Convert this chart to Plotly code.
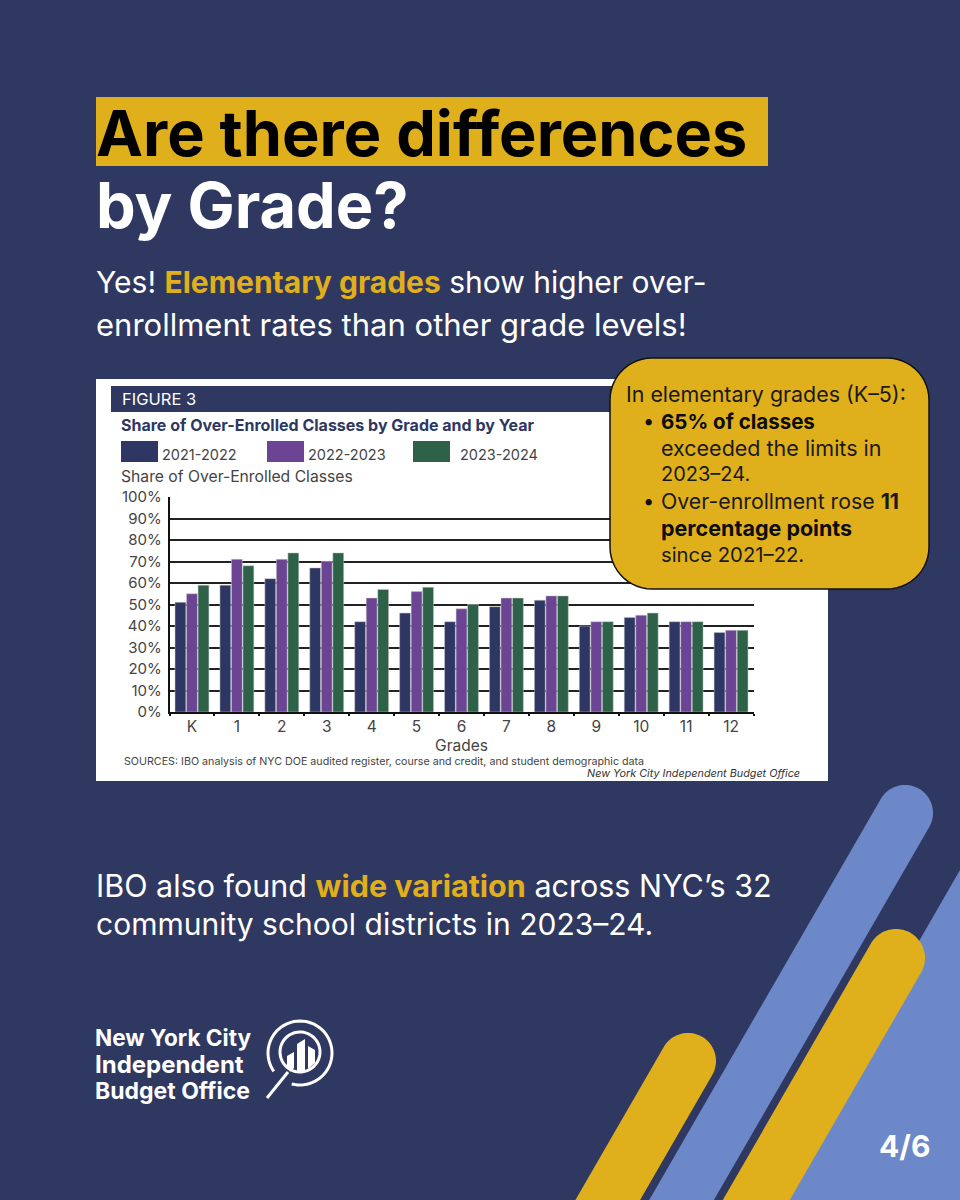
import numpy as np
import plotly.graph_objects as go

# values
grades = ["K", "1", "2", "3", "4", "5", "6", "7", "8", "9", "10", "11", "12"]
share_2021 = [51, 59, 62, 67, 42, 46, 42, 49, 52, 40, 44, 42, 37]
share_2022 = [55, 71, 71, 70, 53, 56, 48, 53, 54, 42, 45, 42, 38]
share_2023 = [59, 68, 74, 74, 57, 58, 50, 53, 54, 42, 46, 42, 38]
year_labels = ["2021-2022", "2022-2023", "2023-2024"]
y_ticks = [0, 10, 20, 30, 40, 50, 60, 70, 80, 90, 100]
y_tick_labels = ["0%", "10%", "20%", "30%", "40%", "50%", "60%", "70%", "80%", "90%", "100%"]

NAVY = "#2f3860"
BLUE = "#6d88c8"
GOLD = "#e0af1c"
BAR_NAVY = "#2e3763"
BAR_PURPLE = "#6b4593"
BAR_GREEN = "#2d6148"
FONT = "Inter"
W, H = 960, 1200


def px(x):
    return x / W


def py(y):
    return 1 - y / H


def path_from(points, close=True):
    """Turns pixel points into an svg path in paper coordinates."""
    parts = [f"{px(x):.5f},{py(y):.5f}" for x, y in points]
    return "M" + " L".join(parts) + (" Z" if close else "")


def capsule(cx, cy, r):
    """Diagonal stripe with a round top end, running off the bottom of the page."""
    dx, dy = -0.5, np.sqrt(3) / 2
    angles = np.radians(np.linspace(30, -150, 40))
    pts = [(cx + r * np.cos(a), cy + r * np.sin(a)) for a in angles]
    end = pts[-1]
    start = pts[0]
    t_end = (H - end[1]) / dy
    t_start = (H - start[1]) / dy
    pts.append((end[0] + t_end * dx, H))
    pts.append((start[0] + t_start * dx, H))
    return path_from(pts)


def round_rect(x0, y0, x1, y1, r):
    pts = []
    corners = [(x1 - r, y0 + r, -90), (x1 - r, y1 - r, 0), (x0 + r, y1 - r, 90), (x0 + r, y0 + r, 180)]
    for cx, cy, a0 in corners:
        for a in np.radians(np.linspace(a0, a0 + 90, 14)):
            pts.append((cx + r * np.cos(a), cy + r * np.sin(a)))
    return path_from(pts)


def arc(cx, cy, r, a0, a1):
    pts = [(cx + r * np.cos(a), cy + r * np.sin(a)) for a in np.radians(np.linspace(a0, a1, 60))]
    return path_from(pts, close=False)


def fill_shape(path, color, layer="below", line_color=None, line_width=0):
    return dict(type="path", path=path, xref="paper", yref="paper", fillcolor=color, layer=layer,
                line=dict(color=line_color or color, width=line_width))


def stroke_shape(path, color, width):
    return dict(type="path", path=path, xref="paper", yref="paper", layer="above",
                line=dict(color=color, width=width))


def box(x0, y0, x1, y1, color, layer="below"):
    return dict(type="rect", xref="paper", yref="paper", x0=px(x0), x1=px(x1), y0=py(y0), y1=py(y1),
                fillcolor=color, layer=layer, line=dict(width=0))


def note(x, y, text, size, color="#ffffff", anchor="left"):
    return dict(x=px(x), y=py(y), xref="paper", yref="paper", text=text, showarrow=False,
                xanchor=anchor, yanchor="middle", align=anchor, borderpad=0, borderwidth=0,
                font=dict(family=FONT, size=size, color=color))


def gold(text):
    return f'<span style="color:{GOLD}"><b>{text}</b></span>'


fig = go.Figure()
for label, values, color in zip(year_labels, [share_2021, share_2022, share_2023],
                                [BAR_NAVY, BAR_PURPLE, BAR_GREEN]):
    fig.add_trace(go.Bar(x=grades, y=values, name=label, marker=dict(color=color, line=dict(color="#c9c9c9", width=0.5))))

shapes = [
    # background stripes
    fill_shape(path_from([(960, 870), (960, 1200), (770, 1200)]), BLUE),
    fill_shape(capsule(905, 813, 28), BLUE),
    fill_shape(capsule(896, 958, 29), GOLD),
    fill_shape(capsule(688, 1061, 28), GOLD),
    # title highlight
    box(96, 97, 768, 166, GOLD),
    # figure card
    box(96, 379, 828, 781, "#ffffff"),
    box(111, 386, 800, 412, NAVY),
    # legend swatches
    box(121, 441, 158, 462, BAR_NAVY),
    box(267, 441, 304, 462, BAR_PURPLE),
    box(413, 441, 450, 462, BAR_GREEN),
    # callout
    fill_shape(round_rect(610, 358, 929, 589, 42), GOLD, layer="above", line_color="#111111", line_width=1.5),
    # logo
    stroke_shape(arc(300, 1053, 32, -215, 105), "#ffffff", 3),
    stroke_shape(arc(300, 1052, 20, 0, 360), "#ffffff", 3),
    stroke_shape(path_from([(288, 1072), (267, 1098)], close=False), "#ffffff", 3),
    fill_shape(path_from([(287, 1056), (294, 1052), (294, 1068), (290, 1072), (287, 1066)]), "#ffffff", layer="above"),
    fill_shape(path_from([(297, 1044), (305, 1039), (305, 1071), (297, 1071)]), "#ffffff", layer="above"),
    fill_shape(path_from([(308, 1046), (315, 1050), (315, 1063), (308, 1069)]), "#ffffff", layer="above"),
]

annotations = [
    note(96, 133, "<b>Are there differences</b>", 63, "#000000"),
    note(96, 205, "<b>by Grade?</b>", 63),
    note(96, 282, f"Yes! {gold('Elementary grades')} show higher over-", 30),
    note(96, 324, "enrollment rates than other grade levels!", 31),
    note(122, 399, "FIGURE 3", 16.5),
    note(121, 425, "<b>Share of Over-Enrolled Classes by Grade and by Year</b>", 16, BAR_NAVY),
    note(162, 454, year_labels[0], 14.5, "#444444"),
    note(308, 454, year_labels[1], 14.5, "#444444"),
    note(460, 454, year_labels[2], 14.5, "#444444"),
    note(121, 477, "Share of Over-Enrolled Classes", 15.7, "#444444"),
    note(124, 761, "SOURCES: IBO analysis of NYC DOE audited register, course and credit, and student demographic data", 10.7, "#444444"),
    note(800, 773, "<i>New York City Independent Budget Office</i>", 10.8, "#333333", anchor="right"),
    note(626, 394, "In elementary grades (K–5):", 21.4, "#1a1a1a"),
    note(643, 421, "•", 20, "#111111"),
    note(661, 421, "<b>65% of classes</b>", 20.5, "#0d0d0d"),
    note(661, 448, "exceeded the limits in", 21.5, "#1a1a1a"),
    note(661, 474, "2023–24.", 20, "#1a1a1a"),
    note(643, 501, "•", 20, "#111111"),
    note(661, 501, "Over-enrollment rose <b>11</b>", 21.3, "#1a1a1a"),
    note(661, 528, "<b>percentage points</b>", 21.5, "#0d0d0d"),
    note(661, 554, "since 2021–22.", 20.3, "#1a1a1a"),
    note(96, 885, f"IBO also found {gold('wide variation')} across NYC’s 32", 30.5),
    note(96, 924, "community school districts in 2023–24.", 30),
    note(95, 1037, "<b>New York City</b>", 22.6),
    note(95, 1064, "<b>Independent</b>", 24),
    note(95, 1091, "<b>Budget Office</b>", 23),
    note(930, 1146, "<b>4/6</b>", 30, anchor="right"),
]

fig.update_layout(
    width=W,
    height=H,
    margin=dict(l=0, r=0, t=0, b=0, pad=0, autoexpand=False),
    paper_bgcolor=NAVY,
    plot_bgcolor="rgba(0,0,0,0)",
    barmode="group",
    bargap=0.23,
    bargroupgap=0.06,
    showlegend=False,
    font=dict(family=FONT, color="#444444"),
    shapes=shapes,
    annotations=annotations,
)
fig.update_xaxes(
    domain=[px(169.5), px(753.5)],
    automargin=False,
    type="category",
    tickson="boundaries",
    ticks="outside",
    ticklen=2,
    tickcolor="#111111",
    tickwidth=1.5,
    showline=True,
    linecolor="#111111",
    linewidth=1.5,
    showgrid=False,
    tickfont=dict(size=15.5, color="#444444"),
    title=dict(text="Grades", font=dict(size=15.5, color="#444444"), standoff=2),
)
fig.update_yaxes(
    domain=[py(712), py(497)],
    automargin=False,
    range=[0, 100],
    tickmode="array",
    tickvals=y_ticks,
    ticktext=y_tick_labels,
    ticklabelstandoff=3,
    showline=True,
    linecolor="#111111",
    linewidth=1.5,
    showgrid=True,
    gridcolor="#222222",
    gridwidth=1.5,
    zeroline=False,
    ticks="",
    tickfont=dict(size=15, color="#444444"),
)

fig.write_html("out.html", config={"displayModeBar": False},
               post_script="document.body.style.margin='0';document.body.style.background='%s';" % NAVY)
